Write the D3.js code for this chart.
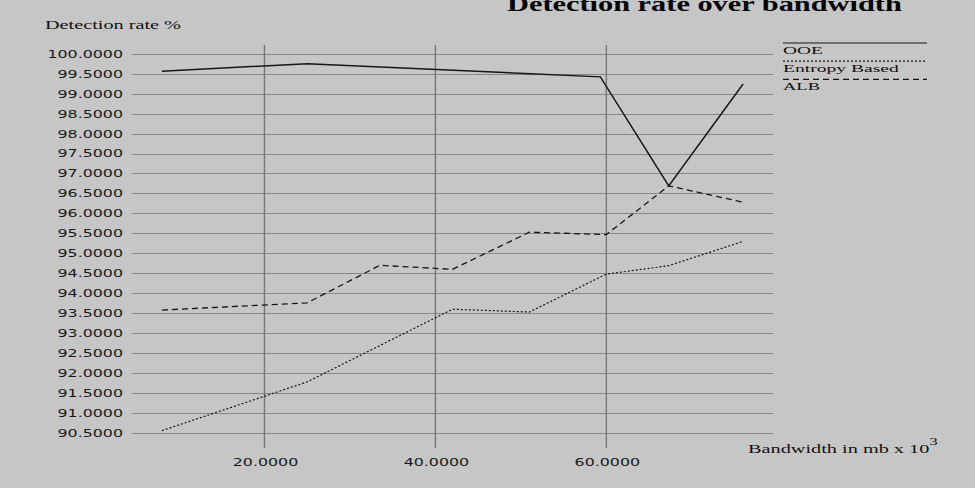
<!DOCTYPE html>
<html>
<head>
<meta charset="utf-8">
<script src="https://cdn.jsdelivr.net/npm/d3@7"></script>
<style>
  html, body { margin: 0; padding: 0; background: #c6c6c6; }
  svg { display: block; }
</style>
</head>
<body>
<svg id="chart"></svg>
<script>
const width = 975
const height = 488

// data
const ooeX = [8, 25, 59.3, 67.3, 76]
const ooeY = [99.56, 99.75, 99.42, 96.69, 99.24]

const entropyX = [8, 25, 42, 51, 60, 67.3, 76]
const entropyY = [90.56, 91.78, 93.6, 93.53, 94.48, 94.69, 95.3]

const albX = [8, 25, 33.5, 42, 51, 60, 67.3, 76]
const albY = [93.58, 93.76, 94.7, 94.6, 95.53, 95.47, 96.69, 96.28]

const xTicks = [20, 40, 60]
const seriesNames = ['OOE', 'Entropy Based', 'ALB']

const svg = d3.select('#chart').attr('width', width).attr('height', height)

// background
svg.append('rect').attr('width', width).attr('height', height).attr('fill', '#c6c6c6')

const x = d3.scaleLinear().domain([4.5, 79.5]).range([132, 773])
const y = d3.scaleLinear().domain([90.5, 100]).range([433, 53.7])
const fmt = d3.format('.4f')
const sx = 1.44 // the original is stretched sideways

// stretch a text to a given width
function fitWidth(t, px, py, w) {
  const len = t.node().getComputedTextLength()
  t.attr('transform', `translate(${px},${py}) scale(${w / len},1)`)
}

// horizontal grid
const yTicks = y.ticks(20)
svg.append('g')
  .selectAll('line')
  .data(yTicks)
  .join('line')
  .attr('x1', x.range()[0])
  .attr('x2', x.range()[1])
  .attr('y1', d => Math.round(y(d)) + 0.5)
  .attr('y2', d => Math.round(y(d)) + 0.5)
  .attr('stroke', '#878787')
  .attr('stroke-width', 1)

// vertical grid
svg.append('g')
  .selectAll('line')
  .data(xTicks)
  .join('line')
  .attr('x1', d => x(d))
  .attr('x2', d => x(d))
  .attr('y1', 45)
  .attr('y2', 448)
  .attr('stroke', '#767676')
  .attr('stroke-width', 1.4)

// y tick labels
svg.append('g')
  .selectAll('text')
  .data(yTicks)
  .join('text')
  .attr('transform', d => `translate(123,${y(d)}) scale(${sx},1)`)
  .attr('text-anchor', 'end')
  .attr('dy', '0.36em')
  .attr('font-family', 'DejaVu Sans')
  .attr('font-size', 11)
  .attr('fill', '#1a1a1a')
  .text(d => fmt(d))

// x tick labels
svg.append('g')
  .selectAll('text')
  .data(xTicks)
  .join('text')
  .attr('transform', d => `translate(${x(d) + 1},466) scale(${sx},1)`)
  .attr('text-anchor', 'middle')
  .attr('font-family', 'DejaVu Sans')
  .attr('font-size', 11)
  .attr('fill', '#1a1a1a')
  .text(d => fmt(d))

// lines
const line = d3.line().x(d => x(d[0])).y(d => y(d[1]))
const series = [
  { name: seriesNames[0], pts: d3.zip(ooeX, ooeY), dash: null, w: 1.5 },
  { name: seriesNames[1], pts: d3.zip(entropyX, entropyY), dash: '2,2', w: 1.2 },
  { name: seriesNames[2], pts: d3.zip(albX, albY), dash: '6,4', w: 1.3 }
]

svg.append('g')
  .selectAll('path')
  .data(series)
  .join('path')
  .attr('d', d => line(d.pts))
  .attr('fill', 'none')
  .attr('stroke', '#161616')
  .attr('stroke-width', d => d.w)
  .attr('stroke-dasharray', d => d.dash)

// legend
const legend = svg.append('g')
series.forEach((s, i) => {
  const ly = 43 + i * 18.2
  legend.append('line')
    .attr('x1', 783).attr('x2', 927)
    .attr('y1', ly).attr('y2', ly)
    .attr('stroke', '#161616')
    .attr('stroke-width', 1.2)
    .attr('stroke-dasharray', s.dash)
  const t = legend.append('text')
    .attr('font-family', 'Liberation Serif')
    .attr('font-size', 11)
    .attr('fill', '#111')
    .text(s.name)
  fitWidth(t, 783, ly + 10.5, [40, 116, 37][i])
})

// title, cut at the top edge
const title = svg.append('text')
  .attr('font-family', 'Liberation Serif')
  .attr('font-weight', 'bold')
  .attr('font-size', 21)
  .attr('fill', '#000')
  .text('Detection rate over bandwidth')
fitWidth(title, 507, 11, 395)

// y axis title
const yTitle = svg.append('text')
  .attr('font-family', 'Liberation Serif')
  .attr('font-size', 13)
  .attr('fill', '#111')
  .text('Detection rate %')
fitWidth(yTitle, 45, 29, 136)

// x axis title with superscript
const xTitle = svg.append('text')
  .attr('font-family', 'Liberation Serif')
  .attr('font-size', 12)
  .attr('fill', '#111')
xTitle.append('tspan').text('Bandwidth in mb x 10')
xTitle.append('tspan').attr('dy', -8).attr('font-size', 10).text('3')
fitWidth(xTitle, 748, 453, 190)
</script>
</body>
</html>
